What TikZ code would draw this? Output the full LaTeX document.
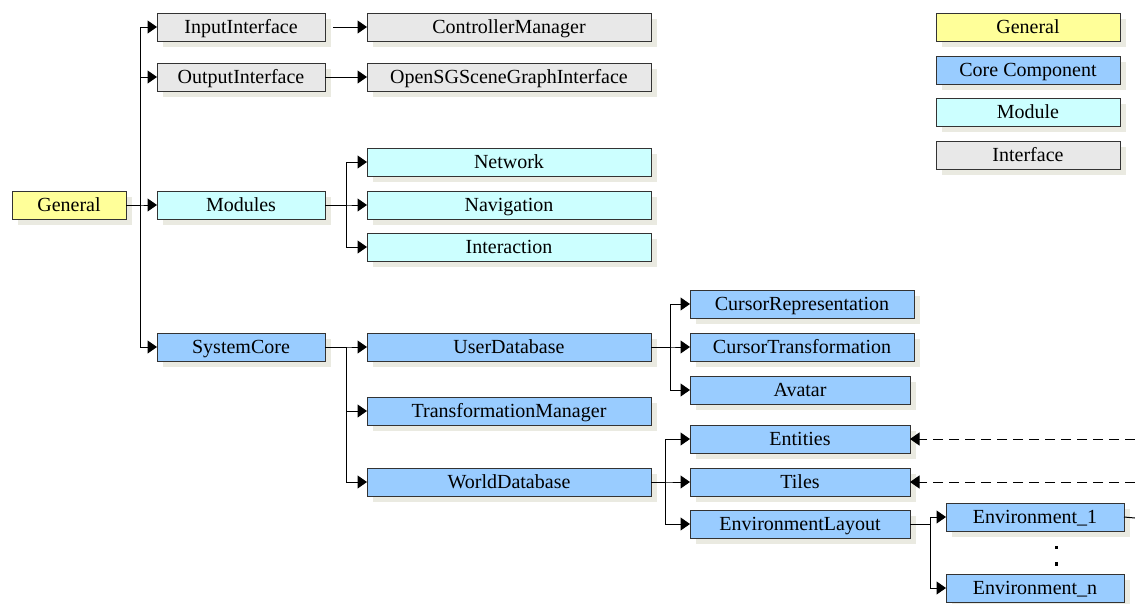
\documentclass[tikz,border=0pt]{standalone}
\usepackage{fontspec}
\setmainfont{Liberation Serif}
\usetikzlibrary{arrows.meta,shadows}
\definecolor{cgen}{HTML}{FFFF99}
\definecolor{ccore}{HTML}{99CCFF}
\definecolor{cmod}{HTML}{CCFFFF}
\definecolor{cint}{HTML}{E8E8E8}
\definecolor{cshadow}{RGB}{234,234,225}
\definecolor{cline}{HTML}{333333}
\tikzset{
  box/.style={draw=cline, line width=1pt, anchor=north west, inner sep=0pt, outer sep=0pt,
    minimum height=28pt, font=\fontsize{20}{24}\selectfont, text height=13.4pt, text depth=0pt,
    drop shadow={shadow xshift=6pt, shadow yshift=-6pt, fill=cshadow, opacity=1}},
  gbox/.style={box, fill=cgen},
  cbox/.style={box, fill=ccore},
  mbox/.style={box, fill=cmod},
  ibox/.style={box, fill=cint},
  arr/.style={draw=black, line width=1pt, -{Triangle[length=9.5pt,width=13pt]}},
  darr/.style={arr, dash pattern=on 10pt off 6pt},
  plain/.style={draw=black, line width=1pt},
}
\begin{document}
\begin{tikzpicture}[x=1pt,y=-1pt]
\useasboundingbox (0,0) rectangle (1135,603);
% nodes
\node[gbox, minimum width=114pt] (gen) at (12,191) {General};
\node[ibox, minimum width=168pt] (inp) at (157,13) {InputInterface};
\node[ibox, minimum width=168pt] (outp) at (157,63) {OutputInterface};
\node[mbox, minimum width=168pt] (mods) at (157,191) {Modules};
\node[cbox, minimum width=168pt] (sysc) at (157,333) {SystemCore};
\node[ibox, minimum width=284pt] (ctrl) at (367,13) {ControllerManager};
\node[ibox, minimum width=284pt] (osg) at (367,63) {OpenSGSceneGraphInterface};
\node[mbox, minimum width=284pt] (net) at (367,148) {Network};
\node[mbox, minimum width=284pt] (nav) at (367,191) {Navigation};
\node[mbox, minimum width=284pt] (inter) at (367,233) {Interaction};
\node[cbox, minimum width=284pt] (udb) at (367,333) {UserDatabase};
\node[cbox, minimum width=284pt] (tfm) at (367,397) {TransformationManager};
\node[cbox, minimum width=284pt] (wdb) at (367,468) {WorldDatabase};
\node[cbox, minimum width=224pt] (crep) at (690,290) {CursorRepresentation};
\node[cbox, minimum width=224pt] (ctra) at (690,333) {CursorTransformation};
\node[cbox, minimum width=220pt] (avat) at (690,376) {Avatar};
\node[cbox, minimum width=220pt] (ent) at (690,425) {Entities};
\node[cbox, minimum width=220pt] (tiles) at (690,468) {Tiles};
\node[cbox, minimum width=220pt] (envl) at (690,510) {EnvironmentLayout};
\node[cbox, minimum width=178pt] (env1) at (946,503) {Environment\_1};
\node[cbox, minimum width=178pt] (envn) at (946,574) {Environment\_n};
% legend
\node[gbox, minimum width=184pt] (lg1) at (936,13) {General};
\node[cbox, minimum width=184pt] (lg2) at (936,56) {Core Component};
\node[mbox, minimum width=184pt] (lg3) at (936,98) {Module};
\node[ibox, minimum width=184pt] (lg4) at (936,141) {Interface};
% connectors
\foreach \c in {inp,outp,mods,sysc}
  \draw[arr] (gen.east) -- ++(14,0) |- (\c.west);
\draw[arr] ([xshift=8pt]inp.east) -- (ctrl.west);
\draw[arr] (outp.east) -- (osg.west);
\foreach \c in {net,nav,inter}
  \draw[arr] (mods.east) -- ++(21,0) |- (\c.west);
\foreach \c in {udb,tfm,wdb}
  \draw[arr] (sysc.east) -- ++(21,0) |- (\c.west);
\foreach \c in {crep,ctra,avat}
  \draw[arr] (udb.east) -- ++(19,0) |- (\c.west);
\foreach \c in {ent,tiles,envl}
  \draw[arr] (wdb.east) -- ++(14,0) |- (\c.west);
\foreach \c in {env1,envn}
  \draw[arr] (envl.east) -- ++(20,0) |- (\c.west);
\coordinate (de) at (1135,439);
\coordinate (dt) at (1135,482);
\coordinate (er) at (1135,518);
\draw[darr] (de) -- (ent.east);
\draw[darr] (dt) -- (tiles.east);
\draw[plain] (env1.east) -- (er);
% vertical ellipsis
\fill (1054.5,545.5) rectangle ++(3.5,3.5);
\fill (1054.5,562) rectangle ++(3.5,3.5);
\end{tikzpicture}
\end{document}
